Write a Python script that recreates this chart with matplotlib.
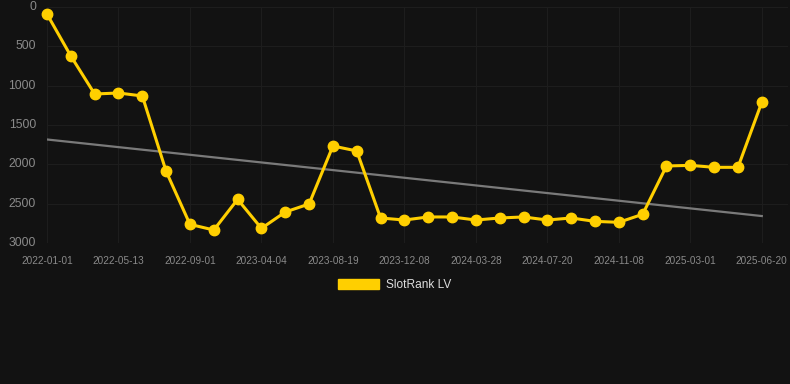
import numpy as np
import matplotlib
matplotlib.use('Agg')
from matplotlib import pyplot as plt
from matplotlib.patches import Patch

plt.rcParams['font.family'] = ['Liberation Sans', 'DejaVu Sans']

dates = ['2022-01-01', '2022-05-13', '2022-09-01', '2023-04-04', '2023-08-19',
         '2023-12-08', '2024-03-28', '2024-07-20', '2024-11-08', '2025-03-01',
         '2025-06-20']
ranks = [90, 623, 1106, 1093, 1131, 2089, 2763, 2835, 2445, 2814,
         2606, 2504, 1767, 1830, 2682, 2708, 2669, 2669, 2708, 2682,
         2669, 2708, 2682, 2725, 2737, 2635, 2021, 2013, 2038, 2038,
         1211]
series_name = 'SlotRank LV'

bg = '#121212'
yellow = '#ffcf00'

x = np.arange(len(ranks))
fig = plt.figure(figsize=(7.9, 3.84), dpi=100, facecolor=bg)
ax = fig.add_axes([47/790, (384-243)/384, (788-47)/790, 236/384])
ax.set_facecolor(bg)

# trend line from a linear fit
k, b = np.polyfit(x, ranks, 1)
ax.plot(x, k*x + b, color='#7a7a7a', lw=1.6, zorder=2)

ax.plot(x, ranks, color=yellow, lw=2.2, marker='o', markersize=7.5,
        clip_on=False, zorder=3)

ax.set_xlim(0, 31.1)
ax.set_ylim(3000, 0)
ax.set_yticks([0, 500, 1000, 1500, 2000, 2500, 3000])
ax.set_xticks(x[::3])
ax.set_xticklabels(dates)
ax.grid(True, color='#1d1d1d', lw=0.8)
ax.set_axisbelow(True)
for s in ax.spines.values():
    s.set_visible(False)
ax.tick_params(axis='y', length=0, colors='#8a8a8a', labelsize=8.7, pad=8)
ax.tick_params(axis='x', length=0, colors='#8a8a8a', labelsize=7.2, pad=9)
for t in ax.get_yticklabels():
    t.set_verticalalignment('center')

fig.legend(handles=[Patch(color=yellow, label=series_name)],
           loc='center', bbox_to_anchor=(0.5, 1 - 285/384), frameon=False,
           handlelength=3.4, handleheight=1.0, handletextpad=0.6,
           labelcolor='#dddddd', fontsize=8.6)

fig.savefig('out.png', dpi=100, facecolor=bg)
